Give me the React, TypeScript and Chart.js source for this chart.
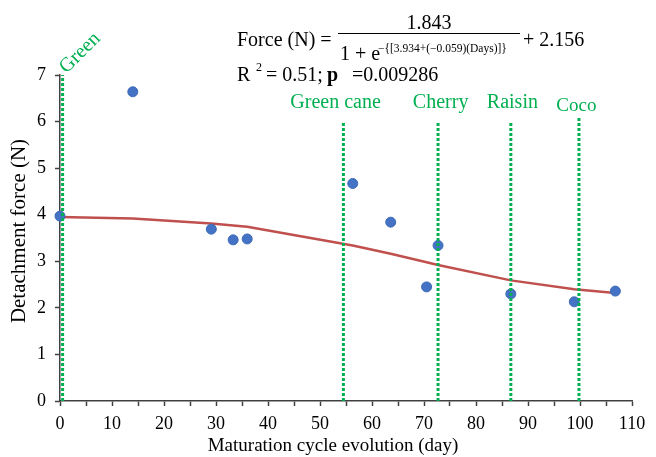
import React, { useEffect, useRef } from "react";
import { Chart, registerables } from "chart.js";

Chart.register(...registerables);

// ---- data ----
const days = [0, 14, 29.1, 33.3, 36, 56.3, 63.6, 70.5, 72.7, 86.7, 98.9, 106.8];
const force = [3.97, 6.64, 3.69, 3.46, 3.48, 4.67, 3.84, 2.45, 3.34, 2.3, 2.13, 2.36];
const fitForce = [3.95, 3.92, 3.81, 3.77, 3.74, 3.34, 3.16, 2.98, 2.92, 2.59, 2.4, 2.32];

const stageNames = ["Green", "Green cane", "Cherry", "Raisin", "Coco"];
const stageDays = [0.5, 54.5, 72.7, 86.7, 99.8];
const stageTops = [7, 6, 6, 6, 6.1];
const stageLabelX = [0.5, 53, 73.2, 87, 99.3];
const stageLabelY = [7, 6.3, 6.3, 6.3, 6.23];

const xTitle = "Maturation cycle evolution (day)";
const yTitle = "Detachment force (N)";

const SERIF = '"Liberation Serif", "Times New Roman", serif';
const GREEN = "#00B050";
const AXIS = "#404040";

const annotationPlugin = {
  id: "annot",
  afterDraw(chart: any) {
    const ctx = chart.ctx as CanvasRenderingContext2D;
    const xs = chart.scales.x;
    const ys = chart.scales.y;
    ctx.save();
    // stage labels
    ctx.fillStyle = GREEN;
    ctx.textBaseline = "alphabetic";
    for (let i = 0; i < stageNames.length; i++) {
      const px = xs.getPixelForValue(stageLabelX[i]);
      const py = ys.getPixelForValue(stageLabelY[i]);
      if (i === 0) {
        ctx.save();
        ctx.font = `20px ${SERIF}`;
        ctx.translate(px + 4, py - 1);
        ctx.rotate(-Math.PI / 4);
        ctx.textAlign = "left";
        ctx.fillText(stageNames[i], 0, 0);
        ctx.restore();
      } else {
        ctx.font = `${i === 4 ? 19 : 20}px ${SERIF}`;
        ctx.textAlign = "center";
        ctx.fillText(stageNames[i], px, py);
      }
    }

    // axis titles
    ctx.fillStyle = "#000";
    ctx.font = `19px ${SERIF}`;
    ctx.textAlign = "center";
    ctx.textBaseline = "middle";
    ctx.fillText(xTitle, 333, 446);
    ctx.save();
    ctx.translate(19, 231);
    ctx.rotate(-Math.PI / 2);
    ctx.font = `21px ${SERIF}`;
    ctx.fillText(yTitle, 0, 0);
    ctx.restore();

    // equation
    ctx.textBaseline = "alphabetic";
    ctx.strokeStyle = "#000";
    ctx.textAlign = "left";
    ctx.font = `20px ${SERIF}`;
    ctx.fillText("Force (N) =", 237, 46);
    ctx.textAlign = "center";
    ctx.fillText("1.843", 429, 29);
    ctx.lineWidth = 1;
    ctx.beginPath();
    ctx.moveTo(338, 33.5);
    ctx.lineTo(520, 33.5);
    ctx.stroke();
    ctx.textAlign = "left";
    ctx.fillText("1 + e", 340, 60);
    ctx.font = `11.5px ${SERIF}`;
    ctx.fillText("\u2212{[3.934+(\u22120.059)(Days)]}", 378, 52);
    ctx.font = `20px ${SERIF}`;
    ctx.fillText("+ 2.156", 523, 46);

    ctx.fillText("R", 237, 81);
    ctx.font = `12px ${SERIF}`;
    ctx.fillText("2", 256, 71);
    ctx.font = `20px ${SERIF}`;
    ctx.fillText("= 0.51;", 266, 81);
    ctx.font = `bold 20px ${SERIF}`;
    ctx.fillText("p", 327, 81);
    ctx.font = `20px ${SERIF}`;
    ctx.fillText("=0.009286", 352, 81);
    ctx.restore();
  },
};

export default function App() {
  const ref = useRef<HTMLCanvasElement | null>(null);
  useEffect(() => {
    if (!ref.current) return;
    const stageSets = stageDays.map((d, i) => ({
      type: "line" as const,
      data: [
        { x: d, y: 0 },
        { x: d, y: stageTops[i] },
      ],
      borderColor: GREEN,
      borderWidth: 3,
      borderDash: [3, 2],
      pointRadius: 0,
      fill: false,
      clip: false,
      order: 0,
    }));
    const chart = new Chart(ref.current, {
      type: "scatter",
      data: {
        datasets: [
          ...stageSets,
          {
            type: "scatter" as const,
            data: days.map((d, i) => ({ x: d, y: force[i] })),
            backgroundColor: "#4472C4",
            borderColor: "#3E6BB8",
            borderWidth: 1,
            pointRadius: 5,
            clip: false,
            order: 1,
          },
          {
            type: "line" as const,
            data: days.map((d, i) => ({ x: d, y: fitForce[i] })),
            borderColor: "#C0504D",
            borderWidth: 2.5,
            pointRadius: 0,
            tension: 0,
            fill: false,
            order: 2,
          },
        ] as any,
      },
      options: {
        responsive: false,
        animation: false,
        layout: { padding: { top: 75, right: 24, left: 0, bottom: 0 } },
        plugins: { legend: { display: false }, tooltip: { enabled: false } },
        scales: {
          x: {
            type: "linear",
            min: 0,
            max: 110,
            afterFit: (s: any) => {
              s.height = 56;
            },
            ticks: {
              stepSize: 5,
              autoSkip: false,
              maxRotation: 0,
              padding: 7,
              color: "#000",
              font: { family: SERIF, size: 18 },
              callback: (v: any) => (Number(v) % 10 === 0 ? String(v) : ""),
            },
            grid: {
              drawOnChartArea: false,
              drawTicks: true,
              tickLength: 5,
              tickColor: AXIS,
              tickWidth: 1.5,
            },
            border: { color: AXIS, width: 1.5 },
            title: { display: false },
          },
          y: {
            type: "linear",
            min: 0,
            max: 7,
            afterFit: (s: any) => {
              s.width = 60;
            },
            ticks: {
              stepSize: 1,
              padding: 9,
              color: "#000",
              font: { family: SERIF, size: 18 },
            },
            grid: {
              drawOnChartArea: false,
              drawTicks: true,
              tickLength: 5,
              tickColor: AXIS,
              tickWidth: 1.5,
            },
            border: { color: AXIS, width: 1.5 },
            title: { display: false },
          },
        },
      },
      plugins: [annotationPlugin],
    });
    return () => chart.destroy();
  }, []);
  return (
    <div style={{ position: "fixed", left: 0, top: 0, width: 656, height: 457, background: "#fff" }}>
      <canvas ref={ref} width={656} height={457} style={{ display: "block" }} />
    </div>
  );
}
